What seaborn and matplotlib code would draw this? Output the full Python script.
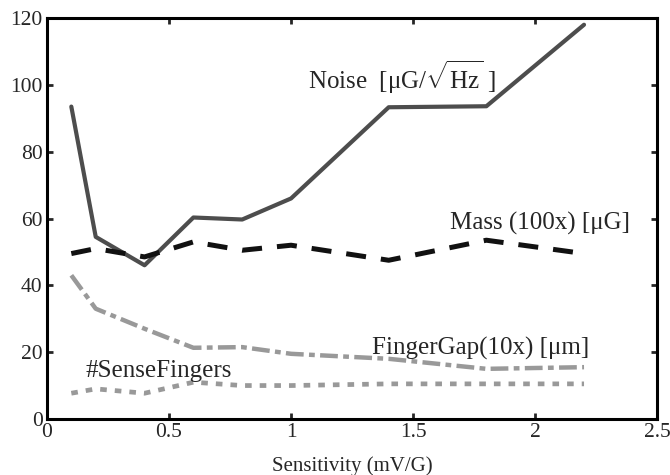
import numpy as np
import pandas as pd
import matplotlib
matplotlib.use("Agg")
import matplotlib.pyplot as plt
import seaborn as sns

sensitivity = [0.1, 0.2, 0.4, 0.6, 0.8, 1.0, 1.4, 1.8, 2.2]
noise = [93.5, 54.5, 46.0, 60.3, 59.7, 66.0, 93.3, 93.6, 118.0]
mass = [49.5, 51.0, 48.5, 53.0, 50.5, 52.0, 47.5, 53.5, 49.5]
finger_gap = [43.0, 33.0, 27.0, 21.3, 21.5, 19.5, 18.0, 15.0, 15.5]
sense_fingers = [7.7, 9.0, 7.7, 11.0, 10.0, 10.0, 10.5, 10.5, 10.5]
x_ticks = [0, 0.5, 1, 1.5, 2, 2.5]
x_tick_labels = ["0", "0.5", "1", "1.5", "2", "2.5"]
y_ticks = [0, 20, 40, 60, 80, 100, 120]

sns.set_style("ticks")
plt.rcParams["font.family"] = ["Liberation Serif", "DejaVu Serif"]
plt.rcParams["mathtext.fontset"] = "custom"
plt.rcParams["mathtext.rm"] = "Liberation Serif"
plt.rcParams["mathtext.it"] = "Liberation Serif:italic"

fig = plt.figure(figsize=(6.7, 4.75), dpi=100)
ax = fig.add_axes([0.070, 0.118, 0.911, 0.844])

sns.lineplot(x=sensitivity, y=noise, ax=ax, color="#4d4d4d", lw=3.0,
             linestyle="-")
sns.lineplot(x=sensitivity, y=mass, ax=ax, color="#111111", lw=3.6,
             linestyle=(0, (4, 3)))
sns.lineplot(x=sensitivity, y=finger_gap, ax=ax, color="#999999", lw=3.2,
             linestyle=(0, (4, 1.2, 1.3, 1.2)))
sns.lineplot(x=sensitivity, y=sense_fingers, ax=ax, color="#999999", lw=3.4,
             linestyle=(0, (1.4, 1.7)))

ax.set_xlim(0, 2.5)
ax.set_ylim(0, 120)
ax.set_xticks(x_ticks)
ax.set_xticklabels(x_tick_labels)
ax.set_yticks(y_ticks)
ax.tick_params(direction="in", top=True, right=True, length=4, width=2,
               labelsize=15.5, pad=3)
for s in ax.spines.values():
    s.set_linewidth(2.2)
    s.set_color("black")
ax.set_xlabel("Sensitivity (mV/G)", fontsize=15, labelpad=10)
ax.set_ylabel("")

ax.text(1.07, 98.8, r"Noise  [μG/$\sqrt{\mathrm{Hz}}$ ]", fontsize=18, va="baseline")
ax.text(1.65, 56.6, "Mass (100x) [μG]", fontsize=18, va="baseline")
ax.text(1.33, 19.2, "FingerGap(10x) [μm]", fontsize=18, va="baseline")
ax.text(0.16, 12.6, "#SenseFingers", fontsize=18, va="baseline")

fig.savefig("out.png", dpi=100, facecolor="white")
